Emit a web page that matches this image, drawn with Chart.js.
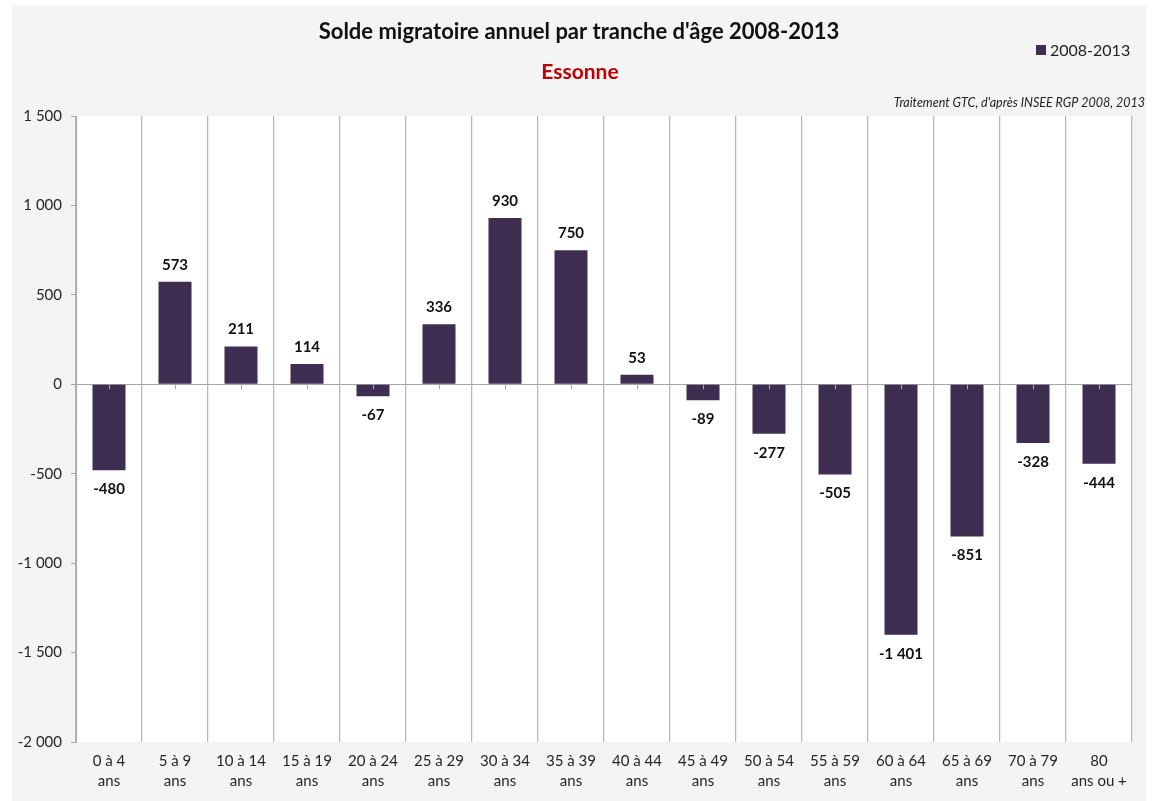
<!DOCTYPE html>
<html>
<head>
<meta charset="utf-8">
<script src="https://cdn.jsdelivr.net/npm/chart.js@4/dist/chart.umd.min.js"></script>
<style>
  html, body { margin: 0; padding: 0; background: #ffffff; }
  #wrap { width: 1153px; height: 801px; position: relative; }
</style>
</head>
<body>
<div id="wrap"><canvas id="c" width="1153" height="801"></canvas></div>
<script>
const categories = [
  ["0 à 4", "ans"], ["5 à 9", "ans"], ["10 à 14", "ans"], ["15 à 19", "ans"],
  ["20 à 24", "ans"], ["25 à 29", "ans"], ["30 à 34", "ans"], ["35 à 39", "ans"],
  ["40 à 44", "ans"], ["45 à 49", "ans"], ["50 à 54", "ans"], ["55 à 59", "ans"],
  ["60 à 64", "ans"], ["65 à 69", "ans"], ["70 à 79", "ans"], ["80", "ans ou +"]
];
const seriesName = "2008-2013";
const values = [-480, 573, 211, 114, -67, 336, 930, 750, 53, -89, -277, -505, -1401, -851, -328, -444];
const yMin = -2000;
const yMax = 1500;
const yStep = 500;
const titleText = "Solde migratoire annuel par tranche d'âge 2008-2013";
const subtitleText = "Essonne";
const sourceText = "Traitement GTC, d'après INSEE RGP 2008, 2013";

const FONT = "Lato, 'Open Sans', 'DejaVu Sans', sans-serif";
const BAR_COLOR = "#3e2f52";

function fmt(n) {
  const s = Math.abs(n).toString().replace(/\B(?=(\d{3})+(?!\d))/g, " ");
  return (n < 0 ? "-" : "") + s;
}

const bgPlugin = {
  id: "bg",
  beforeDraw(chart) {
    const ctx = chart.ctx, a = chart.chartArea;
    ctx.save();
    ctx.fillStyle = "#ffffff";
    ctx.fillRect(0, 0, chart.width, chart.height);
    ctx.fillStyle = "#f4f4f4";
    ctx.fillRect(12, 5, chart.width - 19, chart.height - 5);
    ctx.fillStyle = "#ffffff";
    ctx.fillRect(a.left, a.top, a.right - a.left, a.bottom - a.top);
    ctx.restore();
  }
};

const labelPlugin = {
  id: "labels",
  afterDatasetsDraw(chart) {
    const ctx = chart.ctx;
    const meta = chart.getDatasetMeta(0);
    const y = chart.scales.y, x = chart.scales.x;
    const zero = y.getPixelForValue(0);
    ctx.save();
    ctx.strokeStyle = "#a6a6a6";
    ctx.lineWidth = 1;
    categories.forEach((c, i) => {
      const px = Math.round(x.getPixelForValue(i)) + 0.5;
      ctx.beginPath();
      ctx.moveTo(px, zero);
      ctx.lineTo(px, zero + 5);
      ctx.stroke();
    });
    ctx.fillStyle = "#111111";
    ctx.font = "bold 15px " + FONT;
    ctx.textAlign = "center";
    ctx.textBaseline = "middle";
    meta.data.forEach((bar, i) => {
      const v = values[i];
      const ty = v >= 0 ? bar.y - 17 : bar.y + 19;
      ctx.fillText(fmt(v), bar.x, ty);
    });
    ctx.restore();
  },
  afterDraw(chart) {
    const ctx = chart.ctx;
    ctx.save();
    ctx.textAlign = "center";
    ctx.textBaseline = "middle";
    ctx.fillStyle = "#111111";
    ctx.font = "bold 22px " + FONT;
    ctx.fillText(titleText, 579, 32);
    ctx.fillStyle = "#c00000";
    ctx.font = "bold 21px " + FONT;
    ctx.fillText(subtitleText, 580, 72);
    // legend
    ctx.fillStyle = BAR_COLOR;
    ctx.fillRect(1036, 45, 10, 10);
    ctx.fillStyle = "#222222";
    ctx.font = "16px " + FONT;
    ctx.textAlign = "left";
    ctx.fillText(seriesName, 1050, 51);
    // source
    ctx.font = "italic 12.5px " + FONT;
    ctx.textAlign = "right";
    ctx.fillText(sourceText, 1145, 103);
    ctx.restore();
  }
};

new Chart(document.getElementById("c"), {
  type: "bar",
  data: {
    labels: categories,
    datasets: [{
      label: seriesName,
      data: values,
      backgroundColor: BAR_COLOR,
      borderWidth: 0,
      barPercentage: 0.5,
      categoryPercentage: 1.0
    }]
  },
  options: {
    responsive: false,
    animation: false,
    devicePixelRatio: 1,
    layout: { padding: { top: 116, right: 21, bottom: 9, left: 10 } },
    plugins: {
      legend: { display: false },
      title: { display: false },
      tooltip: { enabled: false }
    },
    scales: {
      x: {
        offset: true,
        grid: { display: true, offset: true, color: "#b8b8b8", lineWidth: 1.3, drawTicks: false },
        border: { display: false },
        ticks: {
          color: "#262626",
          font: { family: FONT, size: 15, lineHeight: 1.35 },
          padding: 9,
          maxRotation: 0,
          autoSkip: false
        },
        afterFit(scale) { scale.height = 50; }
      },
      y: {
        min: yMin,
        max: yMax,
        grid: {
          color: (ctx) => (ctx.tick && ctx.tick.value === 0 ? "#a6a6a6" : "rgba(0,0,0,0)"),
          tickColor: "#a6a6a6",
          tickLength: 5,
          drawTicks: true
        },
        border: { display: true, color: "#a6a6a6" },
        ticks: {
          stepSize: yStep,
          color: "#262626",
          font: { family: FONT, size: 15 },
          padding: 9,
          callback: (v) => fmt(v)
        },
        afterFit(scale) { scale.width = 66; }
      }
    }
  },
  plugins: [bgPlugin, labelPlugin]
});
</script>
</body>
</html>
